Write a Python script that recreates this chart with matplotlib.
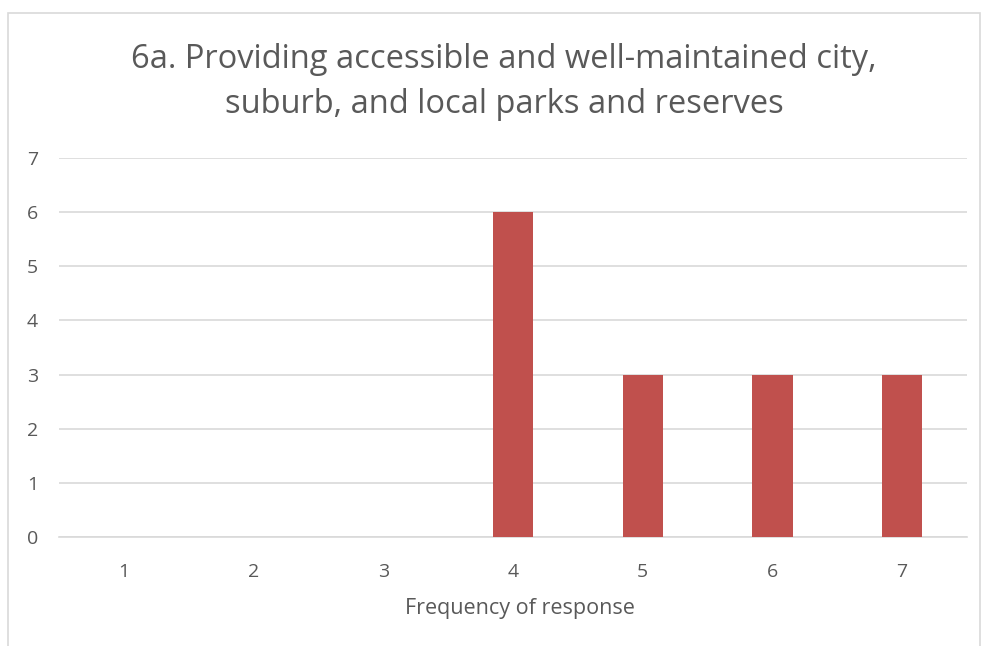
import matplotlib.pyplot as plt
from matplotlib.patches import Rectangle

# chart data
categories = ['1', '2', '3', '4', '5', '6', '7']
counts = [0, 0, 0, 6, 3, 3, 3]
y_ticks = [0, 1, 2, 3, 4, 5, 6, 7]

title_lines = ["6a. Providing accessible and well-maintained city,",
               "suburb, and local parks and reserves"]
xlabel = "Frequency of response"

plt.rcParams['font.family'] = ['Open Sans', 'DejaVu Sans']

W, H = 981, 646
fig = plt.figure(figsize=(W / 100, H / 100), dpi=100)

# outer chart border
fig.patches.append(Rectangle((8 / W, -0.1), 972 / W, 0.1 + (H - 13) / H,
                             transform=fig.transFigure, fill=False,
                             edgecolor='#d9d9d9', linewidth=1.2))

ax = fig.add_axes([59 / W, 109 / H, 908 / W, 379 / H])

x = range(len(categories))
ax.bar(x, counts, width=0.31, color='#c0504d', zorder=3)

ax.set_xlim(-0.5, len(categories) - 0.5)
ax.set_ylim(0, 7)
ax.set_yticks(y_ticks)
ax.set_xticks(list(x))
ax.set_xticklabels(categories)

ax.grid(axis='y', color='#d9d9d9', linewidth=1.2, zorder=0)
for s in ['top', 'right', 'left']:
    ax.spines[s].set_visible(False)
ax.spines['bottom'].set_color('#d9d9d9')
ax.spines['bottom'].set_linewidth(1.2)
ax.tick_params(axis='both', length=0, labelsize=14, colors='#595959')
ax.tick_params(axis='x', pad=19)
ax.tick_params(axis='y', pad=15)

ax.set_xlabel(xlabel, fontsize=15.5, color='#595959', labelpad=11)
ax.xaxis.set_label_coords((520 - 59) / 908, -0.16)

# title, two centred lines placed by baseline
for line, base in zip(title_lines, [68, 113]):
    fig.text(504 / W, 1 - base / H, line, ha='center', va='baseline',
             fontsize=23.5, color='#595959')

fig.savefig('out.png', dpi=100)
